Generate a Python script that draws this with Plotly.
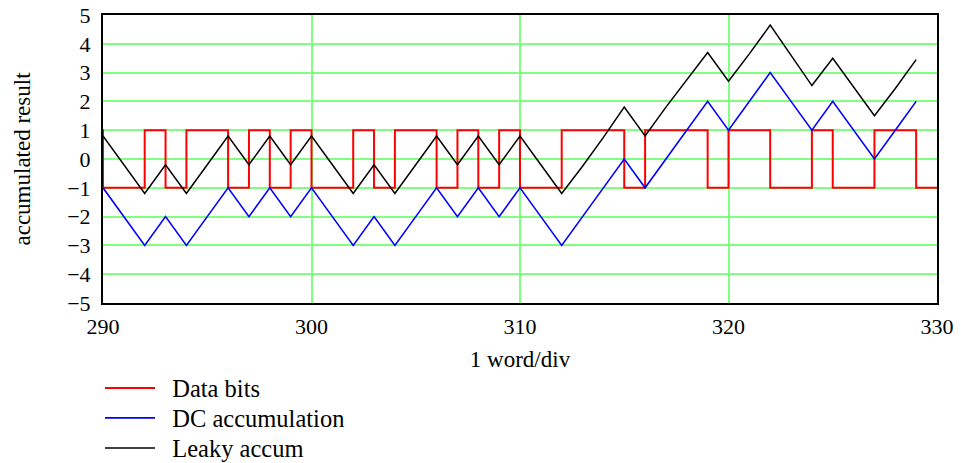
import plotly.graph_objects as go

# word index (x axis)
words = list(range(290, 330))

# data bits: value held over each word (previous bit at 289 shown at left edge)
bit_x = [289] + words + [330]
data_bits = [1,
             -1, -1, 1, -1, 1, 1, -1, 1, -1, 1,
             -1, -1, 1, -1, 1, 1, -1, 1, -1, 1,
             -1, -1, 1, 1, 1, -1, 1, 1, 1, -1,
             1, 1, -1, -1, 1, -1, -1, 1, 1, -1,
             -1]

dc_accum = [-1, -2, -3, -2, -3, -2, -1, -2, -1, -2,
            -1, -2, -3, -2, -3, -2, -1, -2, -1, -2,
            -1, -2, -3, -2, -1, 0, -1, 0, 1, 2,
            1, 2, 3, 2, 1, 2, 1, 0, 1, 2]

leaky_accum = [0.8, -0.2, -1.2, -0.2, -1.2, -0.2, 0.8, -0.2, 0.8, -0.2,
               0.8, -0.2, -1.2, -0.2, -1.2, -0.2, 0.8, -0.2, 0.8, -0.2,
               0.8, -0.2, -1.2, -0.25, 0.75, 1.8, 0.8, 1.8, 2.75, 3.7,
               2.7, 3.65, 4.65, 3.6, 2.55, 3.5, 2.5, 1.5, 2.45, 3.45]

FONT = "Liberation Serif"
GAP = "\u2002"

fig = go.Figure()
fig.add_trace(go.Scatter(x=bit_x, y=data_bits, mode="lines", name=GAP + "Data bits",
                         line=dict(color="#ff0000", width=2, shape="hv"), legend="legend"))
fig.add_trace(go.Scatter(x=words, y=dc_accum, mode="lines", name=GAP + "DC accumulation",
                         line=dict(color="#0000ff", width=1.6), legend="legend2"))
fig.add_trace(go.Scatter(x=words, y=leaky_accum, mode="lines", name=GAP + "Leaky accum",
                         line=dict(color="#000000", width=1.5), legend="legend3"))

leg = dict(x=-0.0036, xanchor="left", yanchor="middle",
           bgcolor="rgba(0,0,0,0)", font=dict(family=FONT, size=24.5),
           itemwidth=50)

fig.update_layout(
    width=961, height=463,
    margin=dict(l=103, r=24, t=15, b=160, autoexpand=False),
    paper_bgcolor="white", plot_bgcolor="white",
    font=dict(family=FONT, size=23, color="black"),
    showlegend=True,
    legend=dict(leg, y=-0.2951),
    legend2=dict(leg, y=-0.3993),
    legend3=dict(leg, y=-0.5035),
    xaxis=dict(range=[290, 330], dtick=10, tick0=290,
               showgrid=True, gridcolor="#80ff80", gridwidth=1.5,
               zeroline=False, showline=True, mirror=True,
               linecolor="black", linewidth=2, ticks="", automargin=False,
               tickfont=dict(family=FONT, size=22), ticklabelstandoff=3,
               title=dict(text="1 word/div", standoff=12, font=dict(family=FONT, size=23))),
    yaxis=dict(range=[-5, 5], dtick=1, tick0=0,
               showgrid=True, gridcolor="#80ff80", gridwidth=1.5,
               zeroline=False, showline=True, mirror=True,
               linecolor="black", linewidth=2, ticks="", automargin=False,
               tickfont=dict(family=FONT, size=22), ticklabelstandoff=6,
               title=dict(text="accumulated result", standoff=30, font=dict(family=FONT, size=23))),
)

fig.write_html("out.html", config={"displayModeBar": False},
               post_script="document.body.style.margin='0px';")
